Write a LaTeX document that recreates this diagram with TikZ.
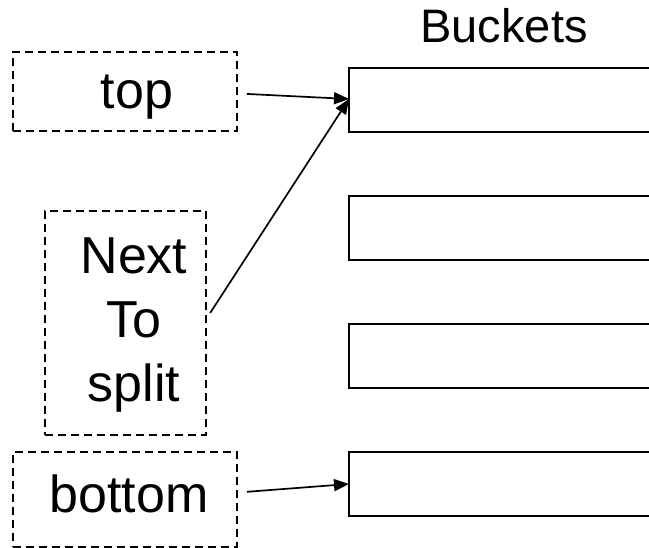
\documentclass[tikz,border=0pt]{standalone}
\usepackage{fontspec}
\setmainfont{Liberation Sans}
\usetikzlibrary{arrows.meta}
\tikzstyle{holder}=[draw, dashed, dash pattern=on 8pt off 5pt, line width=1.8pt, inner sep=0pt]
\tikzstyle{bucket}=[line width=2.3pt]
\tikzstyle{ptr}=[line width=1.7pt, -{Triangle[length=15pt,width=12pt]}]

\begin{document}
\begin{tikzpicture}[x=1pt, y=-1pt]
		\useasboundingbox (0, 0) rectangle (649, 548);
		% heading
		\node(head)[anchor=base] at (504, 43) {\fontsize{47}{56}\selectfont Buckets};
		% buckets, open to the right
		\draw[bucket] (649, 68) -- (349, 68) -- (349, 132) -- (649, 132);
		\draw[bucket] (649, 196) -- (349, 196) -- (349, 260) -- (649, 260);
		\draw[bucket] (649, 324) -- (349, 324) -- (349, 388) -- (649, 388);
		\draw[bucket] (649, 452) -- (349, 452) -- (349, 516) -- (649, 516);
		\coordinate(b1) at (349, 99);
		\coordinate(b4) at (349, 484);
		% pointers
		\node(top)[holder, minimum width=224pt, minimum height=79pt] at (125, 91.5) {};
		\node(nts)[holder, minimum width=161pt, minimum height=224pt] at (125.5, 323) {};
		\node(bot)[holder, minimum width=224pt, minimum height=95pt] at (125, 499.5) {};
		\node(toplbl)[anchor=base] at (137, 109) {\fontsize{52}{64}\selectfont top};
		\node(ntslbl)[anchor=base, align=center, font=\fontsize{52}{64}\selectfont] at (134, 402) {Next\\To\\split};
		\node(botlbl)[anchor=base] at (129, 512) {\fontsize{52}{64}\selectfont bottom};
		\draw[ptr, shorten <=9pt] ([yshift=-2pt]top.east) -- (b1);
		\draw[ptr, shorten <=6pt] ([yshift=5pt]nts.east) -- (b1);
		\draw[ptr, shorten <=9pt] ([yshift=7pt]bot.east) -- (b4);
\end{tikzpicture}
\end{document}
